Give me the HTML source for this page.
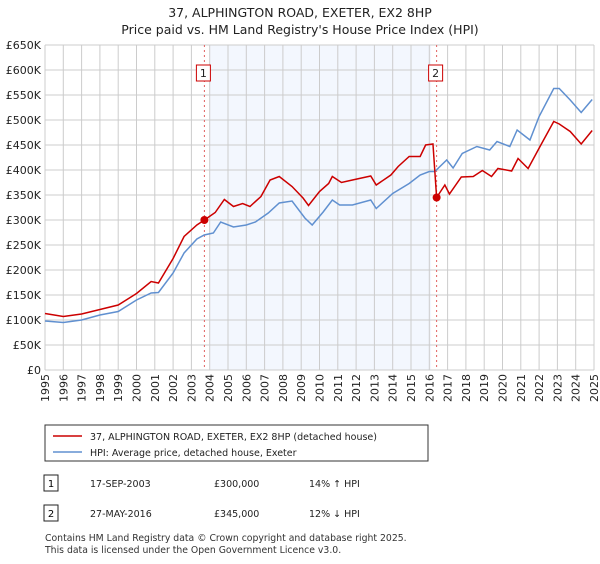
<!DOCTYPE html>
<html><head><meta charset="utf-8"><style>
body{margin:0;background:#fff;font-family:"DejaVu Sans","Liberation Sans",sans-serif;}
svg text{font-family:"DejaVu Sans","Liberation Sans",sans-serif;}
</style></head><body>
<svg id="c" width="600" height="560" viewBox="0 0 600 560" xmlns="http://www.w3.org/2000/svg">
<text x="300" y="17" text-anchor="middle" font-size="12.5" fill="#222">37, ALPHINGTON ROAD, EXETER, EX2 8HP</text>
<text x="300" y="34" text-anchor="middle" font-size="12.5" fill="#222">Price paid vs. HM Land Registry's House Price Index (HPI)</text>
<g id="grid"></g>
<g id="marks"></g>
<g>
<rect x="45" y="425" width="383" height="36" fill="#fff" stroke="#333" stroke-width="1"/>
<line x1="53" y1="436" x2="82" y2="436" stroke="#cc0000" stroke-width="1.5"/>
<text x="90" y="440" font-size="9.5" fill="#222">37, ALPHINGTON ROAD, EXETER, EX2 8HP (detached house)</text>
<line x1="53" y1="452" x2="82" y2="452" stroke="#6090d0" stroke-width="1.5"/>
<text x="90" y="456" font-size="9.5" fill="#222">HPI: Average price, detached house, Exeter</text>
</g>
<g>
<rect x="44" y="475" width="14" height="16" fill="#fff" stroke="#222"/>
<text x="51" y="487" font-size="10" text-anchor="middle">1</text>
<text x="90" y="487" font-size="9.5" fill="#222">17-SEP-2003</text>
<text x="214" y="487" font-size="9.5" fill="#222">£300,000</text>
<text x="309" y="487" font-size="9.5" fill="#222">14% ↑ HPI</text>
<rect x="44" y="505" width="14" height="16" fill="#fff" stroke="#222"/>
<text x="51" y="517" font-size="10" text-anchor="middle">2</text>
<text x="90" y="517" font-size="9.5" fill="#222">27-MAY-2016</text>
<text x="214" y="517" font-size="9.5" fill="#222">£345,000</text>
<text x="309" y="517" font-size="9.5" fill="#222">12% ↓ HPI</text>
</g>
<text x="45" y="541" font-size="9.3" fill="#333">Contains HM Land Registry data © Crown copyright and database right 2025.</text>
<text x="45" y="553" font-size="9.3" fill="#333">This data is licensed under the Open Government Licence v3.0.</text>
</svg>
<script>
const yTicks=[0,50000,100000,150000,200000,250000,300000,350000,400000,450000,500000,550000,600000,650000];
const yTickLabels=["£0","£50K","£100K","£150K","£200K","£250K","£300K","£350K","£400K","£450K","£500K","£550K","£600K","£650K"];
const years=[1995,1996,1997,1998,1999,2000,2001,2002,2003,2004,2005,2006,2007,2008,2009,2010,2011,2012,2013,2014,2015,2016,2017,2018,2019,2020,2021,2022,2023,2024,2025];
const hpiDates=[1995,1996,1997,1998,1999,2000,2000.8,2001.2,2002,2002.6,2003.3,2003.7,2004.2,2004.6,2005.3,2006,2006.5,2007.2,2007.8,2008.5,2009.2,2009.6,2010.2,2010.7,2011.1,2011.8,2012.8,2013.1,2014,2014.9,2015.5,2016,2016.3,2016.95,2017.3,2017.8,2018.6,2019.3,2019.7,2020.4,2020.8,2021.5,2022,2022.8,2023.1,2023.7,2024.3,2024.9];
const hpiValues=[98000,95000,100000,110000,117000,140000,154000,155000,194000,234000,262000,270000,274000,296000,286000,290000,296000,314000,334000,338000,304000,290000,316000,340000,330000,330000,340000,323000,353000,373000,390000,397000,397000,420000,404000,433000,447000,440000,457000,447000,480000,460000,507000,563000,563000,540000,515000,541000];
const priceDates=[1995,1996,1997,1998,1999,2000,2000.8,2001.2,2002,2002.6,2003.3,2003.71,2004.3,2004.8,2005.3,2005.8,2006.2,2006.8,2007.3,2007.8,2008.5,2009.1,2009.4,2010,2010.5,2010.7,2011.2,2011.8,2012.8,2013.1,2013.9,2014.3,2014.9,2015.5,2015.8,2016.2,2016.4,2016.85,2017.1,2017.75,2018.4,2018.9,2019.4,2019.75,2020.5,2020.85,2021.4,2022.05,2022.8,2023.1,2023.7,2024.3,2024.9];
const priceValues=[113000,107000,112000,121000,130000,153000,177000,174000,223000,267000,290000,300000,315000,341000,327000,333000,327000,347000,380000,387000,367000,344000,329000,357000,373000,387000,375000,380000,388000,370000,390000,407000,427000,427000,450000,452000,345000,370000,352000,386000,387000,399000,387000,403000,398000,423000,403000,447000,497000,492000,477000,452000,479000];
const sales=[{d:2003.71,v:300000,n:"1"},{d:2016.4,v:345000,n:"2"}];
const shadeRange=[2004.0,2016.1];

const NS="http://www.w3.org/2000/svg";
const L=45,R=594,T=45,B=370;
const xs=d=>L+(d-1995)/30*(R-L);
const ys=v=>B-v/650000*(B-T);
function mk(tag,attrs,parent){const e=document.createElementNS(NS,tag);for(const k in attrs)e.setAttribute(k,attrs[k]);parent.appendChild(e);return e;}
const grid=document.getElementById('grid'),marks=document.getElementById('marks');
const sh=mk('rect',{x:xs(shadeRange[0]),y:T,width:xs(shadeRange[1])-xs(shadeRange[0]),height:B-T,fill:'#eef3fd',opacity:0.7},grid);


yTicks.forEach((v,i)=>{
 const l=mk('line',{x1:L,x2:R,y1:ys(v),y2:ys(v),stroke:'#cccccc','stroke-width':1},grid);
 
 
 const t=mk('text',{x:L-4,y:ys(v)+4,'text-anchor':'end','font-size':11,fill:'#222'},grid);
 t.textContent=yTickLabels[i];
 
 
});
years.forEach(y=>{
 const l=mk('line',{x1:xs(y),x2:xs(y),y1:T,y2:B,stroke:'#cccccc','stroke-width':1},grid);
 
 
 const t=mk('text',{transform:`translate(${xs(y)+4},${B+4}) rotate(-90)`,'text-anchor':'end','font-size':11,fill:'#222'},grid);
 t.textContent=y;
 
 
});
sales.forEach(s=>{
 const l=mk('line',{x1:xs(s.d),x2:xs(s.d),y1:T,y2:B,stroke:'#e06060','stroke-width':1,'stroke-dasharray':'2,3'},marks);
 
 
});
const hp=mk('polyline',{points:hpiDates.map((d,i)=>xs(d)+','+ys(hpiValues[i])).join(' '),fill:'none',stroke:'#6090d0','stroke-width':1.5},marks);


const pp=mk('polyline',{points:priceDates.map((d,i)=>xs(d)+','+ys(priceValues[i])).join(' '),fill:'none',stroke:'#cc0000','stroke-width':1.5},marks);


sales.forEach(s=>{
 const c=mk('circle',{cx:xs(s.d),cy:ys(s.v),r:4,fill:'#cc0000'},marks);
 
 
 const r=mk('rect',{x:xs(s.d)-8,y:65,width:14,height:16,fill:'#fff',stroke:'#cc0000'},marks);
 
 
 const t=mk('text',{x:xs(s.d)-1,y:77,'text-anchor':'middle','font-size':11,fill:'#222'},marks);
 t.textContent=s.n;
 
 
});
</script>
</body></html>
